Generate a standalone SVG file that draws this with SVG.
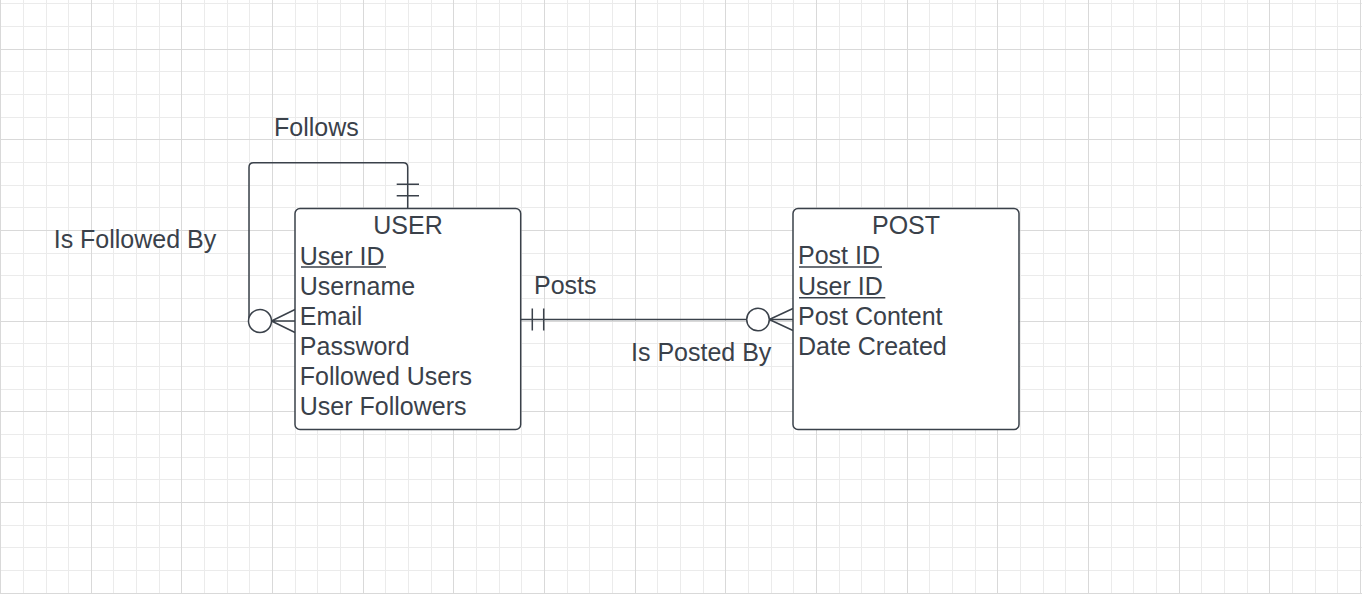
<svg xmlns="http://www.w3.org/2000/svg" width="1362" height="594" viewBox="0 0 1362 594">
<style>
.minor{stroke:#ebebeb;stroke-width:1;fill:none}
.major{stroke:#d9d9d9;stroke-width:1;fill:none}
.ent{fill:#ffffff;stroke:#3a414a;stroke-width:1.5}
.t{font-family:"Liberation Sans",Arial,sans-serif;font-size:25px;fill:#3a414a}
.c{stroke:#3a414a;stroke-width:1.5;fill:none}
.ul{stroke:#3a414a;stroke-width:1.6}
.ring{fill:#ffffff;stroke:#3a414a;stroke-width:1.5}
</style>
<rect x="0" y="0" width="1362" height="594" fill="#ffffff"/>
<g id="grid">
<path class="minor" d="M23.5 0V594M46.5 0V594M68.5 0V594M113.5 0V594M136.5 0V594M159.5 0V594M204.5 0V594M227.5 0V594M249.5 0V594M295.5 0V594M317.5 0V594M340.5 0V594M385.5 0V594M408.5 0V594M431.5 0V594M476.5 0V594M499.5 0V594M521.5 0V594M567.5 0V594M589.5 0V594M612.5 0V594M657.5 0V594M680.5 0V594M703.5 0V594M748.5 0V594M771.5 0V594M793.5 0V594M839.5 0V594M861.5 0V594M884.5 0V594M929.5 0V594M952.5 0V594M975.5 0V594M1020.5 0V594M1043.5 0V594M1065.5 0V594M1111.5 0V594M1133.5 0V594M1156.5 0V594M1201.5 0V594M1224.5 0V594M1247.5 0V594M1292.5 0V594M1315.5 0V594M1337.5 0V594
M0 3.5H1362M0 26.5H1362M0 71.5H1362M0 94.5H1362M0 117.5H1362M0 162.5H1362M0 185.5H1362M0 207.5H1362M0 253.5H1362M0 275.5H1362M0 298.5H1362M0 343.5H1362M0 366.5H1362M0 389.5H1362M0 434.5H1362M0 457.5H1362M0 479.5H1362M0 525.5H1362M0 547.5H1362M0 570.5H1362"/>
<path class="major" d="M0.5 0V594M91.5 0V594M181.5 0V594M272.5 0V594M363.5 0V594M453.5 0V594M544.5 0V594M635.5 0V594M725.5 0V594M816.5 0V594M907.5 0V594M997.5 0V594M1088.5 0V594M1179.5 0V594M1269.5 0V594M1360.5 0V594
M0 49.5H1362M0 139.5H1362M0 230.5H1362M0 321.5H1362M0 411.5H1362M0 502.5H1362M0 593.5H1362"/>
</g>
<g id="connectors">
<g id="follows">
<path class="c" d="M407.7 208.5V167.2Q407.7 162.7 403.2 162.7H253.5Q249 162.7 249 167.2V321"/>
<path class="c" d="M396.7 184.3H419M396.7 195.7H419"/>
<path class="c" d="M271.5 321L295 309.5M271.5 321H295M271.5 321L295 332.5"/>
<circle class="ring" cx="260" cy="321" r="11.5"/>
</g>
<g id="posts">
<path class="c" d="M520.7 319.5H793"/>
<path class="c" d="M532.3 308.5V330.5M543.7 308.5V330.5"/>
<path class="c" d="M769.3 319.5L793 308.5M769.3 319.5L793 330.5"/>
<circle class="ring" cx="758" cy="319.5" r="11.3"/>
</g>
</g>
<g id="labels">
<text class="t" x="274" y="136">Follows</text>
<text class="t" x="53.7" y="248">Is Followed By</text>
<text class="t" x="534" y="293.8">Posts</text>
<text class="t" x="631" y="360.5">Is Posted By</text>
</g>
<g id="user">
<rect class="ent" x="295" y="208.5" width="225.7" height="221" rx="5"/>
<text class="t" x="408" y="233.5" text-anchor="middle">USER</text>
<text class="t" x="299.8" y="264.5">User ID</text>
<line class="ul" x1="301" y1="267" x2="386" y2="267"/>
<text class="t" x="299.8" y="294.5">Username</text>
<text class="t" x="299.8" y="324.5">Email</text>
<text class="t" x="299.8" y="354.5">Password</text>
<text class="t" x="299.8" y="384.5">Followed Users</text>
<text class="t" x="299.8" y="414.5">User Followers</text>
</g>
<g id="post">
<rect class="ent" x="793" y="208.5" width="226" height="221" rx="5"/>
<text class="t" x="906" y="233.5" text-anchor="middle">POST</text>
<text class="t" x="798" y="264.3">Post ID</text>
<line class="ul" x1="799" y1="267" x2="882" y2="267"/>
<text class="t" x="798" y="294.6">User ID</text>
<line class="ul" x1="799" y1="297.7" x2="885.3" y2="297.7"/>
<text class="t" x="798" y="324.5">Post Content</text>
<text class="t" x="798" y="354.5">Date Created</text>
</g>
</svg>
